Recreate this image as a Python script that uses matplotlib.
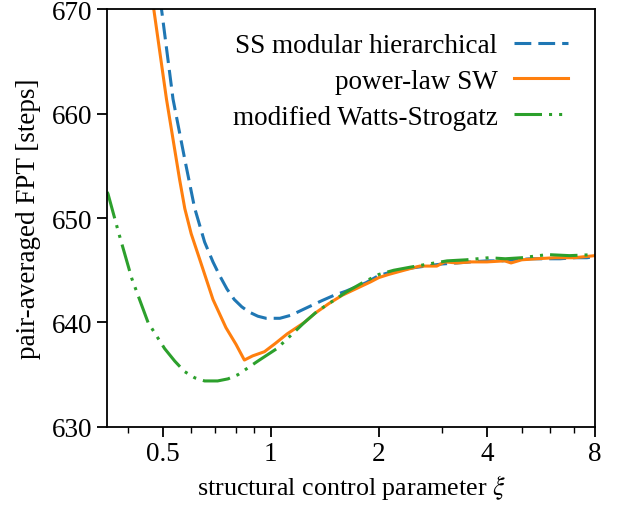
import matplotlib
matplotlib.use("Agg")
import matplotlib.pyplot as plt
from matplotlib.ticker import LogLocator, FixedLocator, FixedFormatter, NullFormatter

plt.rcParams['font.family'] = ['Liberation Serif', 'DejaVu Serif']
plt.rcParams['mathtext.fontset'] = 'stix'
plt.rcParams['font.size'] = 19.5

# SS modular hierarchical
xi_ss = [0.48, 0.496, 0.534, 0.576, 0.613, 0.654, 0.69, 0.72, 0.755, 0.791, 0.83, 0.87, 0.92,
         0.97, 1.06, 1.14, 1.24, 1.39, 1.5, 1.62, 1.84, 2.0, 2.2, 2.45, 2.7, 3.0,
         3.3, 3.6, 4.0, 4.4, 4.8, 5.3, 5.8, 6.4, 7.0, 7.6, 8.0]
fpt_ss = [674.5, 670.0, 661.4, 655.6, 651.0, 647.7, 645.8, 644.5, 643.2, 642.2, 641.5, 641.0, 640.6,
          640.4, 640.4, 640.7, 641.3, 642.1, 642.6, 643.0, 643.8, 644.5, 644.9, 645.2, 645.4, 645.6,
          645.7, 645.8, 645.9, 645.9, 646.0, 646.1, 646.1, 646.1, 646.2, 646.2, 646.3]

# power-law SW
xi_pl = [0.465, 0.472, 0.512, 0.557, 0.576, 0.60, 0.633, 0.69, 0.75, 0.80,
         0.844, 0.89, 0.96, 1.03, 1.11, 1.24, 1.33, 1.45, 1.58, 1.72, 1.9, 2.0, 2.13, 2.35,
         2.6, 2.9, 3.05, 3.3, 3.62, 4.0, 4.48, 4.67, 5.0, 5.5, 6.2, 7.0, 8.0]
fpt_pl = [671.3, 670.0, 661.4, 653.7, 650.9, 648.5, 646.1, 642.2, 639.5, 637.9,
          636.4, 636.8, 637.2, 638.0, 638.9, 640.0, 640.9, 641.8, 642.6, 643.2, 643.9, 644.3, 644.6, 645.0,
          645.4, 645.4, 645.8, 645.7, 645.8, 645.8, 645.9, 645.7, 646.0, 646.1, 646.2, 646.2, 646.4]

# modified Watts-Strogatz
xi_ws = [0.35, 0.352, 0.376, 0.41, 0.455, 0.506, 0.54, 0.575, 0.614, 0.654, 0.711, 0.76, 0.81,
         0.92, 1.04, 1.14, 1.24, 1.35, 1.48, 1.62, 1.8, 2.0, 2.2, 2.45, 2.75, 3.1, 3.5,
         4.05, 4.5, 5.0, 5.9, 6.8, 8.0]
fpt_ws = [652.5, 652.3, 648.7, 644.2, 640.0, 637.5, 636.3, 635.3, 634.7, 634.4, 634.4, 634.6, 635.0,
          636.3, 637.5, 638.8, 640.0, 641.1, 642.0, 642.9, 643.8, 644.6, 645.0, 645.3, 645.6, 645.9, 646.0,
          646.2, 646.1, 646.2, 646.5, 646.4, 646.5]

fig, ax = plt.subplots(figsize=(6.23, 5.10), dpi=100)
fig.subplots_adjust(left=0.172, right=0.955, top=0.980, bottom=0.161)

lw = 2.2
ax.plot(xi_ss, fpt_ss, color='#1f77b4', lw=lw, dashes=(5.5, 2.3), label='SS modular hierarchical')
ax.plot(xi_pl, fpt_pl, color='#ff7f0e', lw=lw, label='power-law SW')
ax.plot(xi_ws, fpt_ws, color='#2ca02c', lw=lw, dashes=(9, 2.3, 1, 2.3, 1, 2.3), label='modified Watts-Strogatz')

ax.set_xscale('log')
ax.set_xlim(0.35, 8)
ax.set_ylim(630, 670)
ax.xaxis.set_major_locator(FixedLocator([0.5, 1, 2, 4, 8]))
ax.xaxis.set_major_formatter(FixedFormatter(['0.5', '1', '2', '4', '8']))
ax.xaxis.set_minor_locator(LogLocator(base=10, subs=range(2, 10)))
ax.xaxis.set_minor_formatter(NullFormatter())
ax.set_yticks([630, 640, 650, 660, 670])

ax.tick_params(which='major', length=7, width=1.3)
ax.tick_params(which='minor', length=4, width=1.0)
for s in ax.spines.values():
    s.set_linewidth(1.3)

ax.set_xlabel(r'structural control parameter $\xi$', fontsize=18.7)
ax.set_ylabel('pair-averaged FPT [steps]', labelpad=8)

ax.legend(loc='upper right', bbox_to_anchor=(0.967, 0.969), borderaxespad=0,
          frameon=False, markerfirst=False, handlelength=2.0,
          labelspacing=0.4, handletextpad=0.6)

fig.savefig('out.png', dpi=100)
